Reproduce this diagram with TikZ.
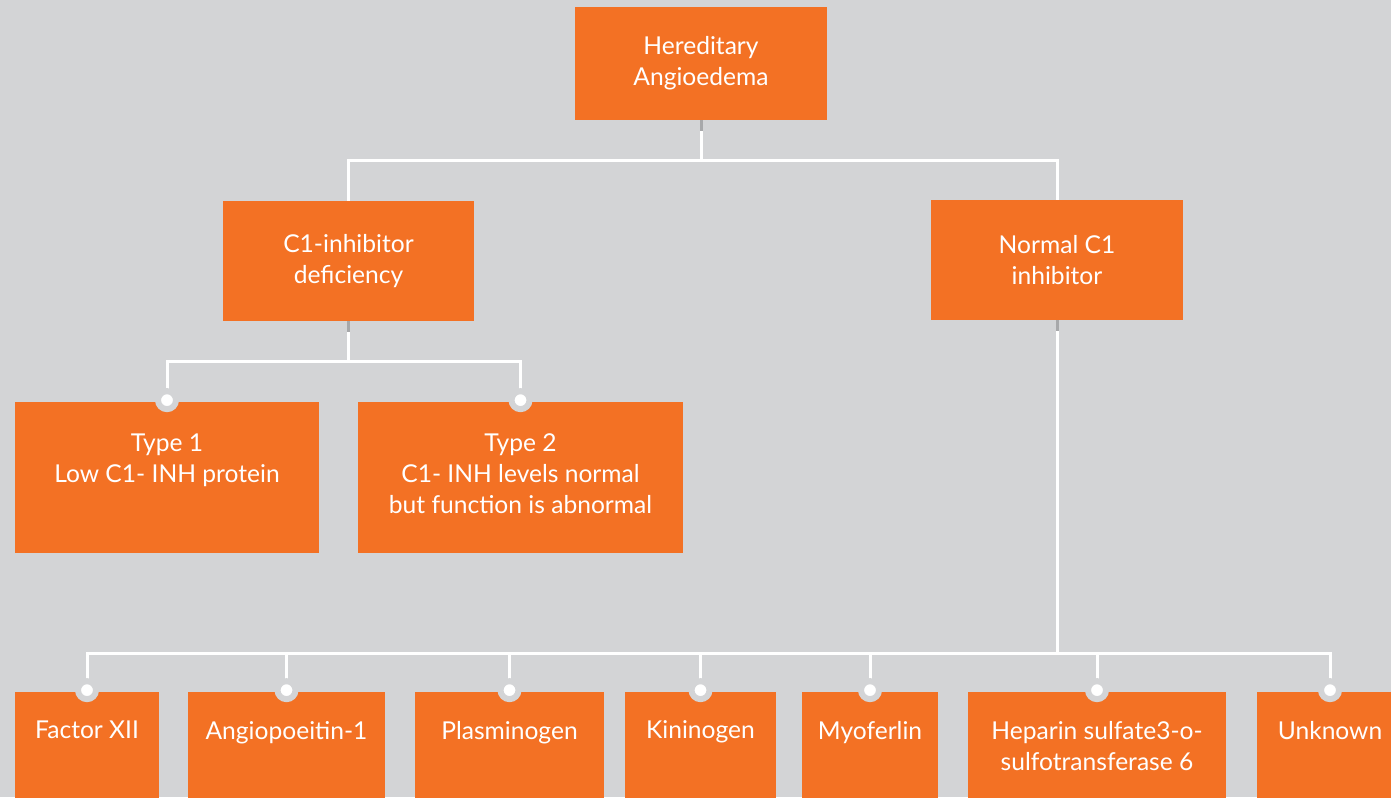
\documentclass[tikz,border=0pt]{standalone}
\usepackage{fontspec}
\setmainfont{Lato}
\definecolor{bg}{HTML}{D3D4D6}
\definecolor{hae}{HTML}{F37124}
\definecolor{stubgray}{HTML}{A7A8AA}
\tikzset{
  txt/.style={text=white, font=\fontsize{14}{17.6}\selectfont},
  box/.style 2 args={fill=hae, txt, align=center, inner sep=0pt,
    minimum width=#1*0.02cm, minimum height=#2*0.02cm},
  toptext/.style 2 args={label={[txt, anchor=north, yshift=-#2*0.02cm, align=center, inner sep=0pt]north:#1}},
  wire/.style={draw=white, line width=0.06cm},
  stub/.style={draw=stubgray, line width=0.06cm},
  dot/.style={circle, fill=white, draw=bg, line width=0.12cm, inner sep=0pt, minimum size=0.36cm}
}
\begin{document}
\begin{tikzpicture}[x=0.02cm, y=-0.02cm]
  \useasboundingbox (0,0) rectangle (1391,797);
  \fill[bg] (0,0) rectangle (1391,797);
  \clip (0,0) rectangle (1391,797);
  % top levels
  \node[box={252}{113}] (hae) at (701,63.5) {Hereditary\\Angioedema};
  \node[box={251}{120}] (def) at (348.5,261) {C1-inhibitor\\deficiency};
  \node[box={252}{120}] (norm) at (1057,260) {Normal C1\\inhibitor};
  % types
  \node[box={304}{151}, toptext={Type 1\\Low C1- INH protein}{32}] (type1) at (167,477.5) {};
  \node[box={325}{151}, toptext={Type 2\\C1- INH levels normal\\but function is abnormal}{32}] (type2) at (520.5,477.5) {};
  % bottom row
  \node[box={144}{130}, toptext={Factor XII}{29}] (f12) at (87,757) {};
  \node[box={197}{130}, toptext={Angiopoeitin-1}{29}] (ang) at (286.5,757) {};
  \node[box={189}{130}, toptext={Plasminogen}{29}] (pla) at (509.5,757) {};
  \node[box={151}{130}, toptext={Kininogen}{29}] (kin) at (700.5,757) {};
  \node[box={136}{130}, toptext={Myoferlin}{29}] (myo) at (870,757) {};
  \node[box={258}{130}, toptext={Heparin sulfate3-o-\\sulfotransferase 6}{29}] (hep) at (1097,757) {};
  \node[box={146}{130}, toptext={Unknown}{29}] (unk) at (1330,757) {};
  % connectors
  \coordinate (j0) at (701,161);
  \coordinate (j1) at (348.5,361);
  \coordinate (j2) at (1057,653);
  \draw[wire] (hae.south) -- (j0);
  \draw[wire] (def.north) |- (j0) -| (norm.north);
  \draw[wire] (def.south) -- (j1);
  \draw[wire] (type1.north) |- (j1) -| (type2.north);
  \draw[wire] (norm.south) -- (j2);
  \draw[wire] (f12.north) |- (j2) -| (unk.north);
  \foreach \n in {ang,pla,kin,myo,hep}
    \draw[wire] (\n.north) -- (\n.north |- j2);
  \foreach \n in {hae,def,norm}
    \draw[stub] (\n.south) -- ++(0,11);
  \foreach \n in {type1,type2,f12,ang,pla,kin,myo,hep,unk}
    \node[dot] (d-\n) at ([yshift=0.03cm]\n.north) {};
\end{tikzpicture}
\end{document}
